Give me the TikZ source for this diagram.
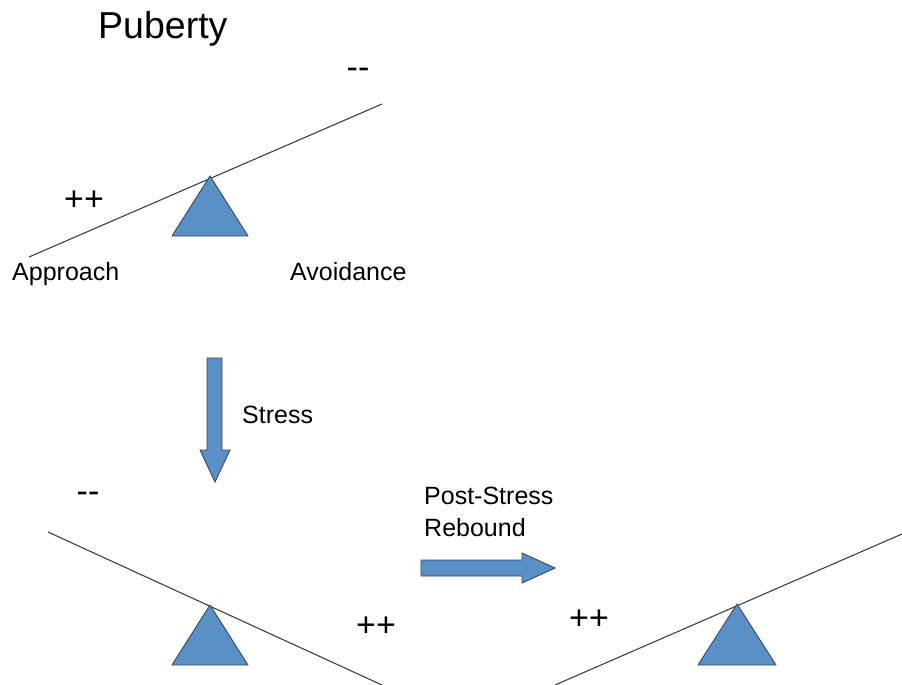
\documentclass[tikz,border=0pt]{standalone}
\usepackage{fontspec}
\setmainfont{Liberation Sans}
\usepackage{xcolor}
\usetikzlibrary{calc}

\definecolor{tribl}{RGB}{91,144,199}
\definecolor{tribd}{RGB}{52,72,100}

\begin{document}
\begin{tikzpicture}[x=1pt, y=-1pt,
  lbl/.style={inner sep=0pt, font=\fontsize{25}{32}\selectfont, align=left},
  sgn/.style={inner sep=0pt, anchor=base, font=\fontsize{34}{36}\selectfont},
  beam/.style={draw=black!75, line width=1.1pt},
  tri/.style={draw=tribd, fill=tribl, line width=0.9pt, line join=round},
  blk/.style={draw=tribd, fill=tribl, line width=0.9pt}]
\useasboundingbox (0,0) rectangle (902,685);

% title
\node[anchor=base west, inner sep=0pt, font=\fontsize{37.5}{40}\selectfont] (title) at (98,39) {Puberty};

% puberty seesaw
\coordinate (b1l) at (29,257);
\coordinate (b1r) at (382,104);
\draw[beam] (b1l) -- (b1r);
\coordinate (t1) at (210,176);
\draw[tri] (t1) -- (172,236) -- (248,236) -- cycle;
\node[sgn] (pp1) at (84,210) {++};
\node[sgn] (mm1) at (358,78) {{-}{-}};
\node[lbl, anchor=base west] (appr) at (12,280) {Approach};
\node[lbl, anchor=base west] (avoid) at (290,280) {Avoidance};

% stress arrow
\draw[blk] (207,358) -- (222,358) -- (222,450) -- (230,450) -- (215,482)
  -- (200,450) -- (207,450) -- cycle;
\node[lbl, anchor=base west] (stress) at (242,423) {Stress};

% stressed seesaw
\coordinate (b2l) at (48,532);
\coordinate (b2r) at (382,685);
\draw[beam] (b2l) -- (b2r);
\coordinate (t2) at (210,605);
\draw[tri] (t2) -- (172,665) -- (248,665) -- cycle;
\node[sgn] (mm2) at (88,502) {{-}{-}};
\node[sgn] (pp2) at (376,636) {++};

% rebound arrow
\draw[blk] (421,560) -- (522,560) -- (522,553) -- (555,568) -- (522,583)
  -- (522,576) -- (421,576) -- cycle;
\node[lbl, anchor=base west] (rebound) at (424,536) {Post-Stress\\Rebound};

% rebound seesaw
\coordinate (b3l) at (555,685);
\coordinate (b3r) at (902,534);
\draw[beam] (b3l) -- (b3r);
\coordinate (t3) at (737,604);
\draw[tri] (t3) -- (698,665) -- (776,665) -- cycle;
\node[sgn] (pp3) at (589,629) {++};
\end{tikzpicture}
\end{document}
